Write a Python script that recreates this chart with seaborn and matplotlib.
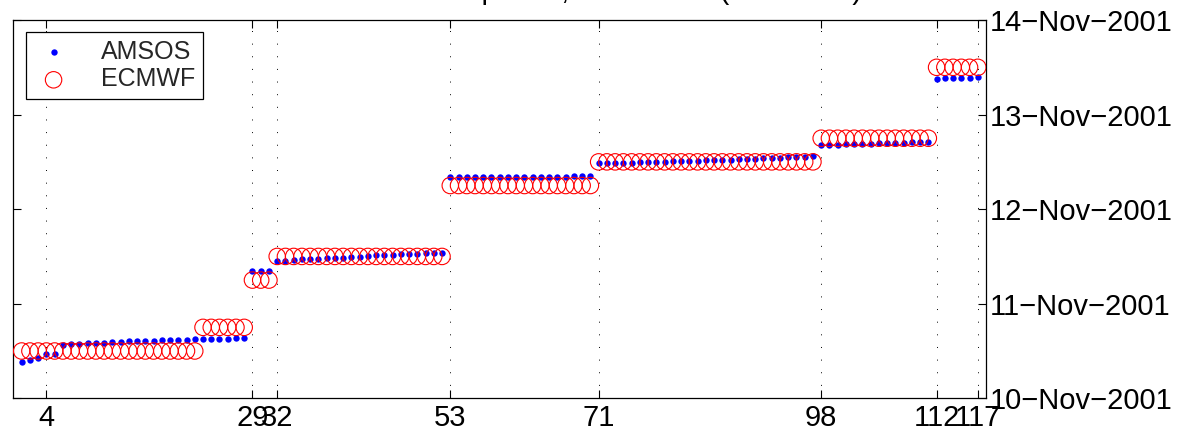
import numpy as np
import pandas as pd
import matplotlib
matplotlib.use("Agg")
import matplotlib.pyplot as plt
import matplotlib.dates as mdates
import seaborn as sns

# Profile number along the section
profile = list(range(1, 118))

# AMSOS profile times, in days after 10-Nov-2001 00:00 UTC
amsos_days = [
    0.387, 0.408, 0.423, 0.465, 0.465,
    0.5636, 0.5707, 0.5742, 0.5813, 0.5848, 0.5848, 0.5918, 0.5988, 0.6024, 0.6059,
    0.6094, 0.6094, 0.6130, 0.6165, 0.6165, 0.6200, 0.6235, 0.6270, 0.6280, 0.6300,
    0.6320, 0.6340, 0.6360,
    1.346, 1.346, 1.346,
    1.4554, 1.4554, 1.4624, 1.4695, 1.4730, 1.4765, 1.4801, 1.4871, 1.4871, 1.4941,
    1.4976, 1.5047, 1.5118, 1.5153, 1.5188, 1.5223, 1.5258, 1.5294, 1.5329, 1.5364,
    1.5399,
    2.340, 2.341, 2.341, 2.342, 2.342, 2.342, 2.343, 2.343, 2.343, 2.344,
    2.344, 2.344, 2.345, 2.345, 2.345, 2.346, 2.346, 2.347,
    2.4849, 2.4849, 2.4884, 2.4919, 2.4919, 2.4955, 2.4990, 2.4990, 2.5025, 2.5061,
    2.5061, 2.5096, 2.5131, 2.5166, 2.5202, 2.5202, 2.5237, 2.5272, 2.5307, 2.5343,
    2.5378, 2.5413, 2.5448, 2.5484, 2.5519, 2.5554, 2.5625,
    2.678, 2.680, 2.683, 2.685, 2.688, 2.690, 2.692, 2.695, 2.697, 2.700,
    2.702, 2.705, 2.707, 2.710,
    3.381, 3.384, 3.388, 3.390, 3.392, 3.396,
]

# ECMWF analysis time matched to each profile (days after 10-Nov-2001) and run lengths
ecmwf_levels = [0.5, 0.75, 1.25, 1.5, 2.25, 2.5, 2.75, 3.5]
ecmwf_counts = [22, 6, 3, 21, 18, 27, 14, 6]

# Profiles marked on the x axis
tick_profiles = [4, 29, 32, 53, 71, 98, 112, 117]

# Date ticks on the y axis
date_ticks = ["2001-11-10", "2001-11-11", "2001-11-12", "2001-11-13", "2001-11-14"]

title_text = "Time of AMSOS and ECMWF profile, 10-14 Nov (UTC time)"

base = pd.Timestamp("2001-11-10")
ecmwf_days = np.repeat(ecmwf_levels, ecmwf_counts)
df = pd.DataFrame({
    "profile": profile,
    "AMSOS": base + pd.to_timedelta(amsos_days, unit="D"),
    "ECMWF": base + pd.to_timedelta(ecmwf_days, unit="D"),
})

sns.set_theme(style="white")
plt.rcParams["font.family"] = ["Liberation Sans", "DejaVu Sans"]

fig = plt.figure(figsize=(11.88, 4.40), dpi=100)
ax = fig.add_axes([0.0113, 0.0948, 0.8187, 0.8597])

sns.scatterplot(data=df, x="profile", y="AMSOS", ax=ax, color="#0000ff",
                marker="o", s=21, linewidth=0, label="AMSOS", zorder=3)
sns.scatterplot(data=df, x="profile", y="ECMWF", ax=ax, marker="o", s=140,
                facecolors="none", edgecolor="#ff0000", linewidth=0.8,
                label="ECMWF", zorder=4)

ax.set_xlim(0, 118)
ax.set_ylim(pd.Timestamp(date_ticks[0]), pd.Timestamp(date_ticks[-1]))
ax.set_xticks(tick_profiles)
ax.set_yticks([pd.Timestamp(d) for d in date_ticks])
ax.yaxis.set_major_formatter(mdates.DateFormatter("%d\u2212%b\u2212%Y"))
ax.set_xlabel("")
ax.set_ylabel("")

ax.grid(False)
for xp in tick_profiles:
    ax.axvline(xp, color="black", linestyle=(0, (1, 12)), linewidth=0.7, zorder=1)

for sp in ax.spines.values():
    sp.set_visible(True)
    sp.set_color("black")
    sp.set_linewidth(0.9)

ax.tick_params(axis="x", which="both", direction="in", top=True, bottom=True,
               length=6, width=0.8, color="black", labelsize=21, pad=4,
               labelcolor="black")
ax.tick_params(axis="y", which="both", direction="in", left=True, right=True,
               labelleft=False, labelright=True, length=6, width=0.8,
               color="black", labelsize=21, pad=3, labelcolor="black")

leg = ax.legend(loc="upper left", bbox_to_anchor=(0.013, 0.968), borderaxespad=0,
                fontsize=18, frameon=True, fancybox=False, framealpha=1,
                edgecolor="black", handletextpad=1.1, handlelength=1.6,
                borderpad=0.3, labelspacing=0.15)
leg.get_frame().set_linewidth(0.9)

# Title runs off the top edge of the canvas; only its descenders show
fig.text(862 / 1188, 1 + 1 / 440, title_text, ha="right", va="baseline",
         fontsize=21, color="black")

fig.savefig("out.png", dpi=100)
